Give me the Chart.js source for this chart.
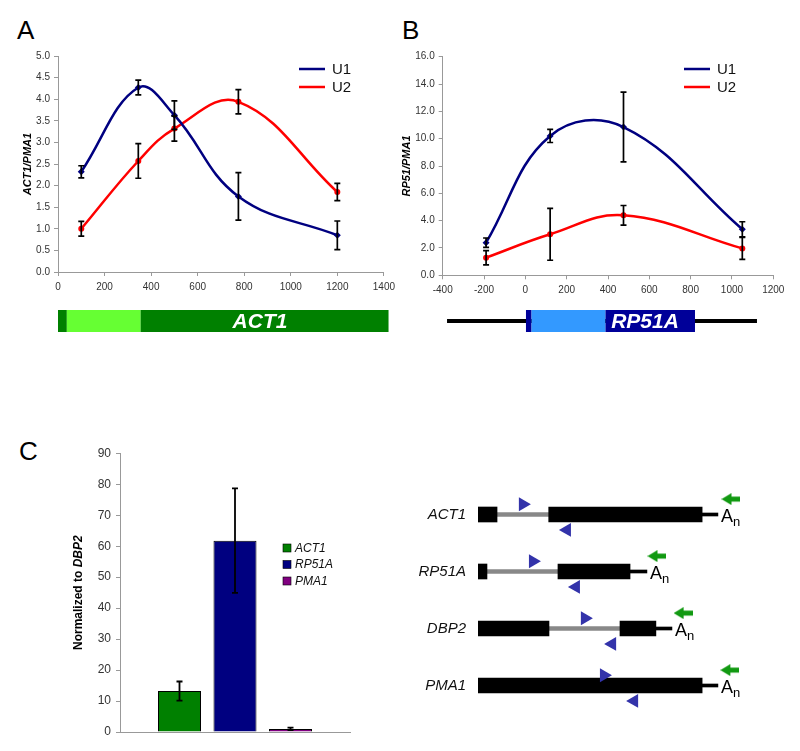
<!DOCTYPE html>
<html>
<head>
<meta charset="utf-8">
<script src="https://cdn.jsdelivr.net/npm/chart.js@4.4.0/dist/chart.umd.min.js"></script>
<style>
  body { margin: 0; background: #fff; width: 800px; height: 751px; position: relative; overflow: hidden;
         font-family: "Liberation Sans", Arial, sans-serif; }
  .box { position: absolute; }
  .letter { position: absolute; font-size: 26px; line-height: 26px; color: #000; }
</style>
</head>
<body>
<div class="letter" style="left:17px;top:17px">A</div>
<div class="letter" style="left:402px;top:17px">B</div>
<div class="letter" style="left:19px;top:438px">C</div>

<div class="box" style="left:0;top:0;width:400px;height:340px"><canvas id="chartA"></canvas></div>
<div class="box" style="left:400px;top:0;width:400px;height:340px"><canvas id="chartB"></canvas></div>
<div class="box" style="left:0;top:380px;width:400px;height:371px"><canvas id="chartC"></canvas></div>
<div class="box" style="left:400px;top:470px;width:400px;height:260px"><canvas id="chartD"></canvas></div>

<script>
// ---- panel A: ACT1 ----
const actPos = [100, 345, 500, 775, 1200];
const actU1 = [2.32, 4.27, 3.63, 1.75, 0.85];
const actU1Err = [0.14, 0.17, 0.33, 0.55, 0.33];
const actU2 = [1.00, 2.57, 3.32, 3.94, 1.85];
const actU2Err = [0.17, 0.40, 0.29, 0.28, 0.20];
const actGeneEdges = [0, 38, 355, 1420];

// ---- panel B: RP51A ----
const rpPos = [-190, 120, 475, 1050];
const rpU1 = [2.39, 10.20, 10.85, 3.37];
const rpU1Err = [0.34, 0.48, 2.55, 0.55];
const rpU2 = [1.29, 3.00, 4.39, 1.97];
const rpU2Err = [0.52, 1.90, 0.72, 0.80];
const rpGeneEdges = [3, 30, 388, 821];
const rpGeneLine = [-379, 1121];

// ---- panel C: bars ----
const barGenes = ['ACT1', 'RP51A', 'PMA1'];
const barValues = [13.2, 61.8, 1.0];
const barErrors = [3.1, 16.9, 0.4];

// ---- panel C: gene diagrams (arbitrary units along the transcript) ----
const geneNames = ['ACT1', 'RP51A', 'DBP2', 'PMA1'];
const exon1 = [[0, 7], [0, 3.3], [0, 26.1], [0, 82.4]];
const intron = [[7, 26], [3.3, 29.4], [26.1, 52.2], null];
const exon2 = [[26, 82.4], [29.4, 55.9], [52.2, 65.4], null];
const utrTail = [[82.4, 88.2], [55.9, 62.1], [65.4, 71.3], [82.4, 88.2]];
const fwdPrimer = [16.5, 20.2, 39.3, 46.3];
const revPrimer = [32.7, 36.0, 49.3, 57.4];
const polyAPrimer = [93.0, 65.8, 75.4, 92.6];

const FONT = '"Liberation Sans", Arial, sans-serif';
Chart.defaults.font.family = FONT;
Chart.defaults.color = '#333';
Chart.defaults.animation = false;
Chart.defaults.plugins.legend.display = false;
Chart.defaults.plugins.tooltip.enabled = false;

// error bars drawn through the y scale
const errorBars = {
  id: 'errorBars',
  afterDatasetsDraw(chart, args, o) {
    const ctx = chart.ctx, y = chart.scales.y;
    ctx.save();
    ctx.strokeStyle = '#000';
    ctx.lineWidth = o.width || 1.6;
    chart.data.datasets.forEach((ds, i) => {
      if (!ds.errors) return;
      chart.getDatasetMeta(i).data.forEach((el, j) => {
        const e = ds.errors[j];
        if (!e) return;
        const raw = ds.data[j];
        const v = typeof raw === 'object' ? raw.y : raw;
        const t = y.getPixelForValue(v + e), b = y.getPixelForValue(v - e);
        const x = el.x, c = o.cap || 3;
        ctx.beginPath();
        ctx.moveTo(x, t); ctx.lineTo(x, b);
        ctx.moveTo(x - c, t); ctx.lineTo(x + c, t);
        ctx.moveTo(x - c, b); ctx.lineTo(x + c, b);
        ctx.stroke();
      });
    });
    ctx.restore();
  }
};

// rotated y axis title, parts can have own font
const axisTitle = {
  id: 'axisTitle',
  afterDraw(chart, args, o) {
    const ctx = chart.ctx, a = chart.chartArea;
    ctx.save();
    ctx.translate(o.x, (a.top + a.bottom) / 2);
    ctx.rotate(-Math.PI / 2);
    ctx.fillStyle = '#000';
    ctx.textBaseline = 'middle';
    let w = 0;
    o.parts.forEach(p => { ctx.font = p.font; w += ctx.measureText(p.text).width; });
    let x = -w / 2;
    o.parts.forEach(p => { ctx.font = p.font; ctx.fillText(p.text, x, 0); x += ctx.measureText(p.text).width; });
    ctx.restore();
  }
};

// line legend (U1 / U2)
const lineKey = {
  id: 'lineKey',
  afterDraw(chart, args, o) {
    const ctx = chart.ctx;
    ctx.save();
    ctx.font = '15px ' + FONT;
    ctx.textBaseline = 'middle';
    chart.data.datasets.forEach((ds, i) => {
      const y = o.y + i * 18;
      ctx.strokeStyle = ds.borderColor;
      ctx.lineWidth = 2.5;
      ctx.beginPath(); ctx.moveTo(o.x, y); ctx.lineTo(o.x + 26, y); ctx.stroke();
      ctx.fillStyle = '#111';
      ctx.fillText(ds.label, o.x + 33, y + 1);
    });
    ctx.restore();
  }
};

// box legend for the bar chart
const boxKey = {
  id: 'boxKey',
  afterDraw(chart, args, o) {
    const ctx = chart.ctx;
    ctx.save();
    ctx.font = 'italic 12px ' + FONT;
    ctx.textBaseline = 'middle';
    chart.data.datasets.forEach((ds, i) => {
      const y = o.y + i * 16.5;
      ctx.fillStyle = ds.backgroundColor;
      ctx.fillRect(o.x, y - 4, 8, 8);
      ctx.strokeStyle = '#000'; ctx.lineWidth = 0.6;
      ctx.strokeRect(o.x, y - 4, 8, 8);
      ctx.fillStyle = '#111';
      ctx.fillText(ds.label, o.x + 12, y + 0.5);
    });
    ctx.restore();
  }
};

// gene map under the x axis, drawn in x-scale units
const geneMap = {
  id: 'geneMap',
  afterDraw(chart, args, o) {
    const ctx = chart.ctx, x = chart.scales.x, top = chart.chartArea.bottom + o.offset;
    const px = v => x.getPixelForValue(v);
    ctx.save();
    if (o.line) {
      ctx.fillStyle = '#000';
      ctx.fillRect(px(o.line[0]), top + o.height / 2 - 2, px(o.line[1]) - px(o.line[0]), 4);
    }
    for (let i = 0; i < o.edges.length - 1; i++) {
      ctx.fillStyle = o.colors[i];
      ctx.fillRect(px(o.edges[i]), top, px(o.edges[i + 1]) - px(o.edges[i]), o.height);
    }
    ctx.fillStyle = '#fff';
    ctx.font = 'italic bold 21px ' + FONT;
    ctx.textAlign = 'center';
    ctx.textBaseline = 'middle';
    ctx.fillText(o.label, px(o.labelAt), top + o.height / 2 + 1);
    ctx.restore();
  }
};

function lineChart(id, pos, u1, u1Err, u2, u2Err, cfg) {
  const pts = arr => pos.map((x, i) => ({ x: x, y: arr[i] }));
  const axisGrid = { drawOnChartArea: false, drawTicks: true, tickLength: 4, color: '#999' };
  return new Chart(document.getElementById(id), {
    type: 'line',
    data: {
      datasets: [
        { label: 'U1', data: pts(u1), errors: u1Err, borderColor: '#000080', backgroundColor: '#000080',
          borderWidth: 2.5, tension: 0.4, pointStyle: 'rectRot', pointRadius: 3.5, pointBorderWidth: 0 },
        { label: 'U2', data: pts(u2), errors: u2Err, borderColor: '#ff0000', backgroundColor: '#ff0000',
          borderWidth: 2.5, tension: 0.4, pointStyle: 'circle', pointRadius: 3, pointBorderWidth: 0 }
      ]
    },
    options: {
      responsive: true,
      maintainAspectRatio: false,
      layout: { padding: { top: cfg.top, right: cfg.right, left: 0, bottom: 0 } },
      scales: {
        x: {
          type: 'linear', min: cfg.xMin, max: cfg.xMax,
          ticks: { stepSize: 200, font: { size: 10 }, padding: 5, color: '#333', callback: v => String(v) },
          grid: axisGrid, border: { color: '#999' },
          afterFit: s => { s.height = cfg.xHeight; }
        },
        y: {
          min: 0, max: cfg.yMax,
          ticks: { stepSize: cfg.yStep, font: { size: 10 }, padding: 4, color: '#333', callback: v => v.toFixed(1) },
          grid: axisGrid, border: { color: '#999' },
          afterFit: s => { s.width = cfg.yWidth; }
        }
      },
      plugins: {
        errorBars: { cap: 3, width: 1.7 },
        axisTitle: { x: cfg.titleX, parts: [{ text: cfg.title, font: 'italic bold 11px ' + FONT }] },
        lineKey: { x: cfg.keyX, y: 69 },
        geneMap: cfg.gene
      }
    },
    plugins: [errorBars, axisTitle, lineKey, geneMap]
  });
}

lineChart('chartA', actPos, actU1, actU1Err, actU2, actU2Err, {
  top: 56, right: 14, xMin: 0, xMax: 1400, xHeight: 68, yMax: 5, yStep: 0.5, yWidth: 58,
  titleX: 28, title: 'ACT1/PMA1', keyX: 299,
  gene: { edges: actGeneEdges, colors: ['#008000', '#66ff33', '#008000'], offset: 38, height: 22,
          label: 'ACT1', labelAt: 868 }
});

lineChart('chartB', rpPos, rpU1, rpU1Err, rpU2, rpU2Err, {
  top: 56.7, right: 26.7, xMin: -400, xMax: 1200, xHeight: 64.7, yMax: 16, yStep: 2, yWidth: 42.7,
  titleX: 7, title: 'RP51/PMA1', keyX: 284,
  gene: { edges: rpGeneEdges, colors: ['#000099', '#3399ff', '#000099'], offset: 34.7, height: 22,
          line: rpGeneLine, label: 'RP51A', labelAt: 579 }
});

// ---- panel C bar chart ----
const barColors = ['#008000', '#000080', '#800080'];
new Chart(document.getElementById('chartC'), {
  type: 'bar',
  data: {
    labels: [''],
    datasets: barGenes.map((g, i) => ({
      label: g, data: [barValues[i]], errors: [barErrors[i]],
      backgroundColor: barColors[i], borderColor: '#000', borderWidth: 1,
      categoryPercentage: 0.724, barPercentage: 0.775
    }))
  },
  options: {
    responsive: true,
    maintainAspectRatio: false,
    layout: { padding: { top: 73.3, right: 50, left: 0, bottom: 0 } },
    scales: {
      x: {
        ticks: { display: false },
        grid: { drawOnChartArea: false, drawTicks: false },
        border: { color: '#999' },
        afterFit: s => { s.height = 19; }
      },
      y: {
        min: 0, max: 90,
        ticks: { stepSize: 10, font: { size: 12 }, padding: 5, color: '#333' },
        grid: { drawOnChartArea: false, drawTicks: true, tickLength: 4, color: '#999' },
        border: { color: '#999' },
        afterFit: s => { s.width = 120; }
      }
    },
    plugins: {
      errorBars: { cap: 3, width: 1.8 },
      axisTitle: { x: 79, parts: [
        { text: 'Normalized to ', font: 'bold 12px ' + FONT },
        { text: 'DBP2', font: 'italic bold 12px ' + FONT }
      ] },
      boxKey: { x: 283, y: 168 }
    }
  },
  plugins: [errorBars, axisTitle, boxKey]
});

// ---- panel C gene diagrams ----
const arrowImg = document.createElement('canvas');
arrowImg.width = 19; arrowImg.height = 12;
(function () {
  const c = arrowImg.getContext('2d');
  c.fillStyle = '#119911';
  c.beginPath();
  c.moveTo(0, 6); c.lineTo(10, 0); c.lineTo(10, 3.5); c.lineTo(19, 3.5);
  c.lineTo(19, 8.5); c.lineTo(10, 8.5); c.lineTo(10, 12); c.closePath();
  c.fill();
})();

const rows = arr => arr.map((r, i) => r ? { y: i, x: r } : null).filter(Boolean);
const marks = (arr, dy) => arr.map((x, i) => ({ x: x, y: i + dy }));

const polyA = {
  id: 'polyA',
  afterDraw(chart) {
    const ctx = chart.ctx, x = chart.scales.x, y = chart.scales.y;
    ctx.save();
    ctx.fillStyle = '#000';
    utrTail.forEach((t, i) => {
      const px = x.getPixelForValue(t[1]) + 3, py = y.getPixelForValue(i);
      ctx.font = '18px ' + FONT;
      ctx.fillText('A', px, py + 7);
      const w = ctx.measureText('A').width;
      ctx.font = '13px ' + FONT;
      ctx.fillText('n', px + w, py + 11);
    });
    ctx.restore();
  }
};

const bar = (data, color, thick) => ({
  data: data, backgroundColor: color, barThickness: thick, maxBarThickness: thick, grouped: false
});

new Chart(document.getElementById('chartD'), {
  type: 'bar',
  data: {
    datasets: [
      { type: 'scatter', data: marks(fwdPrimer, -0.18), pointStyle: 'triangle', rotation: 90,
        pointRadius: 8, backgroundColor: '#3333aa', borderWidth: 0 },
      { type: 'scatter', data: marks(revPrimer, 0.27), pointStyle: 'triangle', rotation: -90,
        pointRadius: 8, backgroundColor: '#3333aa', borderWidth: 0 },
      { type: 'scatter', data: marks(polyAPrimer, -0.27), pointStyle: arrowImg, pointRadius: 8 },
      bar(rows(exon1), '#000', 15),
      bar(rows(exon2), '#000', 15),
      bar(rows(intron), '#888', 4),
      bar(rows(utrTail), '#000', 3)
    ]
  },
  options: {
    indexAxis: 'y',
    responsive: true,
    maintainAspectRatio: false,
    layout: { autoPadding: false, padding: { top: 16, bottom: 16, right: 50, left: 0 } },
    scales: {
      x: { type: 'linear', min: 0, max: 100, display: false },
      y: {
        type: 'linear', min: -0.5, max: 3.5, reverse: true, offset: false,
        afterBuildTicks: s => { s.ticks = geneNames.map((n, i) => ({ value: i })); },
        ticks: { callback: v => geneNames[v], font: { size: 15, style: 'italic' }, color: '#111', padding: 12 },
        grid: { display: false, drawTicks: false, offset: false },
        border: { display: false },
        afterFit: s => { s.width = 78; s.paddingTop = 0; s.paddingBottom = 0; }
      }
    }
  },
  plugins: [polyA]
});
</script>
</body>
</html>
